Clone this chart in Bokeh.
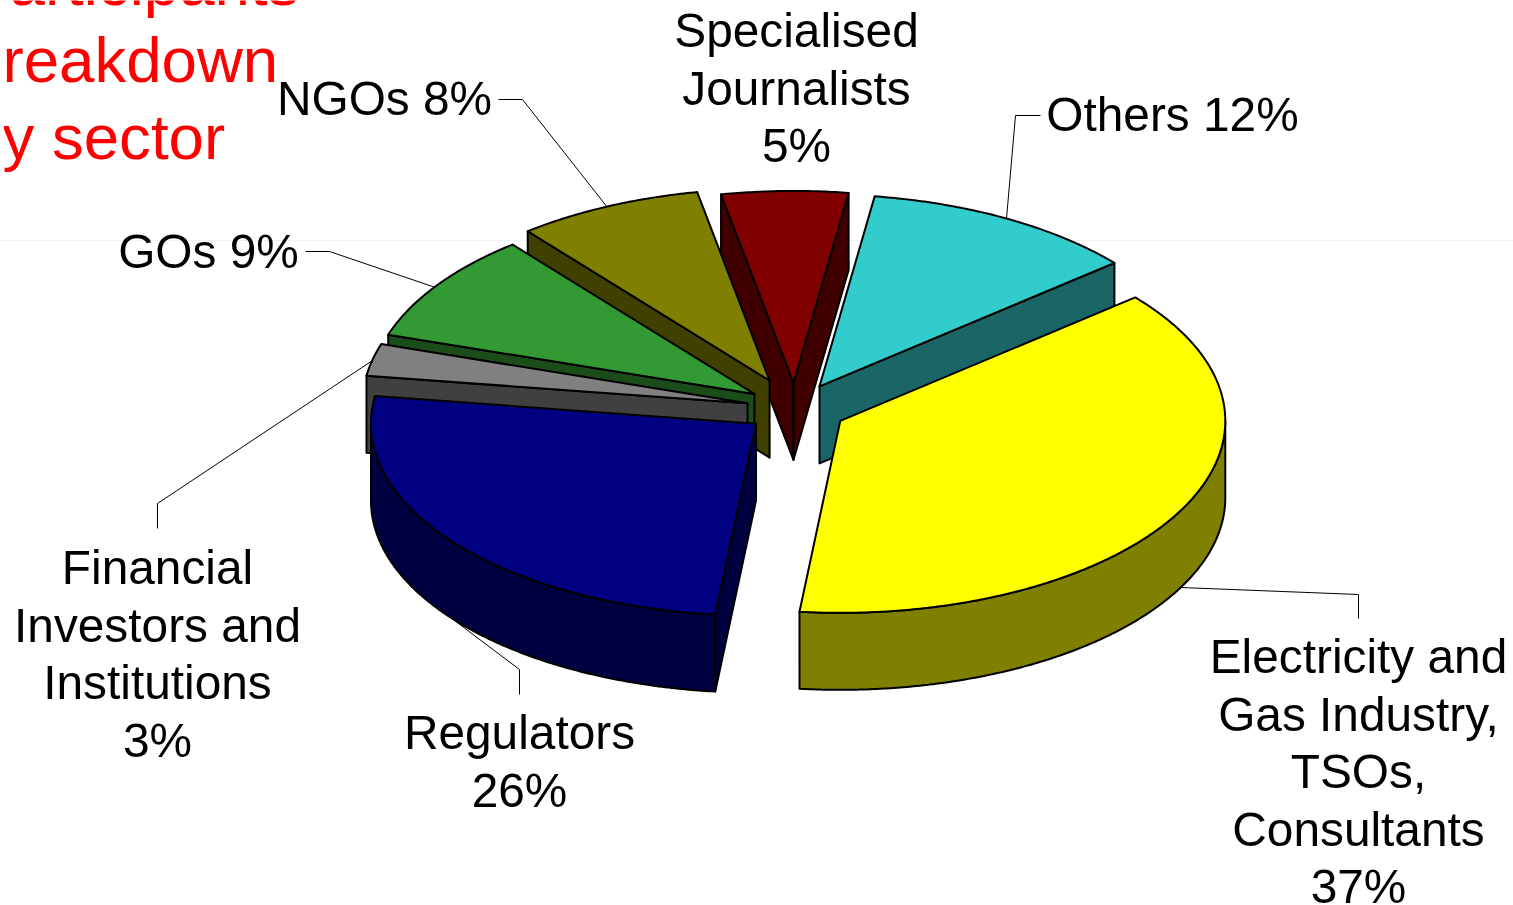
import math
from bokeh.core.properties import value
from bokeh.embed import file_html
from bokeh.models import Range1d
from bokeh.plotting import figure
from bokeh.resources import INLINE

# ---- data (clockwise from the Electricity slice) ----
categories = ["Electricity and Gas Industry, TSOs, Consultants", "Regulators",
              "Financial Investors and Institutions", "GOs", "NGOs",
              "Specialised Journalists", "Others"]
shares = [37.8, 25.6, 2.7, 9.2, 7.8, 5.3, 11.6]
percent_labels = ["37%", "26%", "3%", "9%", "8%", "5%", "12%"]

label_lines = [
    ["Electricity and", "Gas Industry,", "TSOs,", "Consultants", "37%"],
    ["Regulators", "26%"],
    ["Financial", "Investors and", "Institutions", "3%"],
    ["GOs 9%"],
    ["NGOs 8%"],
    ["Specialised", "Journalists", "5%"],
    ["Others 12%"],
]
title_lines = ["Participants", "breakdown", "by sector"]

# ---- styles / layout ----
top_colors = ["#FFFF00", "#000080", "#808080", "#339933", "#808000", "#800000", "#33CCCC"]
side_colors = ["#808000", "#000040", "#404040", "#1A4D1A", "#404000", "#400000", "#1A6666"]
explode = [0.12, 0.12, 0.12, 0.12, 0.16, 0.12, 0.12]
nudge_x = [2, -5, -5, -5, -2, -3, -0.5]
nudge_y = [2.5, 2, 1, -0.5, 1, -1.5, -1]
paint_order = [5, 6, 4, 3, 2, 0, 1]
CX, CY = 797, 407
RX, RY = 385, 192
DEPTH = 77
START = 50.0
LW = 2

label_x = [1358, 519, 157, 208, 384, 796, 1172]
label_base = [656, 732, 567, 251, 98, 30, 114]
LINE_H = 57.5

leaders = [
    ([1358, 1358, 1180], [618, 594, 587]),
    ([519, 519, 450], [694, 669, 617]),
    ([157, 157, 372], [528, 503, 360]),
    ([305, 329, 435], [251, 251, 287]),
    ([498, 522, 607], [99, 99, 207]),
    ([1040, 1015, 1006], [115, 115, 218]),
]

p = figure(width=1513, height=905, x_range=Range1d(0, 1513), y_range=Range1d(905, 0),
           output_backend="svg", toolbar_location=None, min_border=0,
           background_fill_color="white", border_fill_color="white", outline_line_color=None)
p.axis.visible = False
p.grid.visible = False
p.xaxis.visible = False
p.yaxis.visible = False
p.styles = {"position": "fixed", "left": "0px", "top": "0px"}

# faint rule across the page
p.line([0, 1513], [240, 240], line_color="#F0F0F5", line_width=1)

# leader lines
for xs, ys in leaders:
    p.line(xs, ys, line_color="black", line_width=1)


def pt(ax, ay, t):
    r = math.radians(t)
    return ax + RX * math.sin(r), ay - RY * math.cos(r)


# angular extent of each slice from the shares
bounds = []
a = START
for s in shares:
    b = a + s * 3.6
    bounds.append((a, b))
    a = b


def face(xs, ys, color):
    p.patch(xs, ys, fill_color=color, line_color="black", line_width=LW, line_join="round")


for i in paint_order:
    a, b = bounds[i]
    m = math.radians((a + b) / 2)
    ax = CX + explode[i] * RX * math.sin(m) + nudge_x[i]
    ay = CY - explode[i] * RY * math.cos(m) + nudge_y[i]
    steps = max(4, int((b - a) * 2))
    arc = [pt(ax, ay, a + (b - a) * k / steps) for k in range(steps + 1)]
    # radial walls
    if math.sin(math.radians(a)) < 0:
        e = arc[0]
        face([ax, e[0], e[0], ax], [ay, e[1], e[1] + DEPTH, ay + DEPTH], side_colors[i])
    if math.sin(math.radians(b)) > 0:
        e = arc[-1]
        face([ax, e[0], e[0], ax], [ay, e[1], e[1] + DEPTH, ay + DEPTH], side_colors[i])
    # outer wall: only the front half of the ellipse faces the viewer
    lo, hi = max(a, 90), min(b, 270)
    if hi > lo:
        n = int((hi - lo) * 2)
        front = [pt(ax, ay, lo + (hi - lo) * k / n) for k in range(n + 1)]
        face([q[0] for q in front] + [q[0] for q in reversed(front)],
             [q[1] for q in front] + [q[1] + DEPTH for q in reversed(front)], side_colors[i])
    # top
    face([ax] + [q[0] for q in arc], [ay] + [q[1] for q in arc], top_colors[i])

# labels
for i, lines in enumerate(label_lines):
    for k, line in enumerate(lines):
        p.text([label_x[i]], [label_base[i] + k * LINE_H], text=[line],
               text_font=value("Liberation Sans"), text_font_size="47.8px",
               text_color="black", text_align="center", text_baseline="alphabetic")

# clipped title
for k, line in enumerate(title_lines):
    p.text([-33.4], [-18.5 + k * 77], text=[line],
           text_font=value("Liberation Sans"), text_font_size="63.6px",
           text_color="#FF0000", text_align="left", text_baseline="alphabetic")
# the title is cut a little inside the page's left edge
p.quad(left=[0], right=[3.5], top=[0], bottom=[200], fill_color="white", line_color=None)

open("out.html", "w").write(file_html(p, INLINE))
